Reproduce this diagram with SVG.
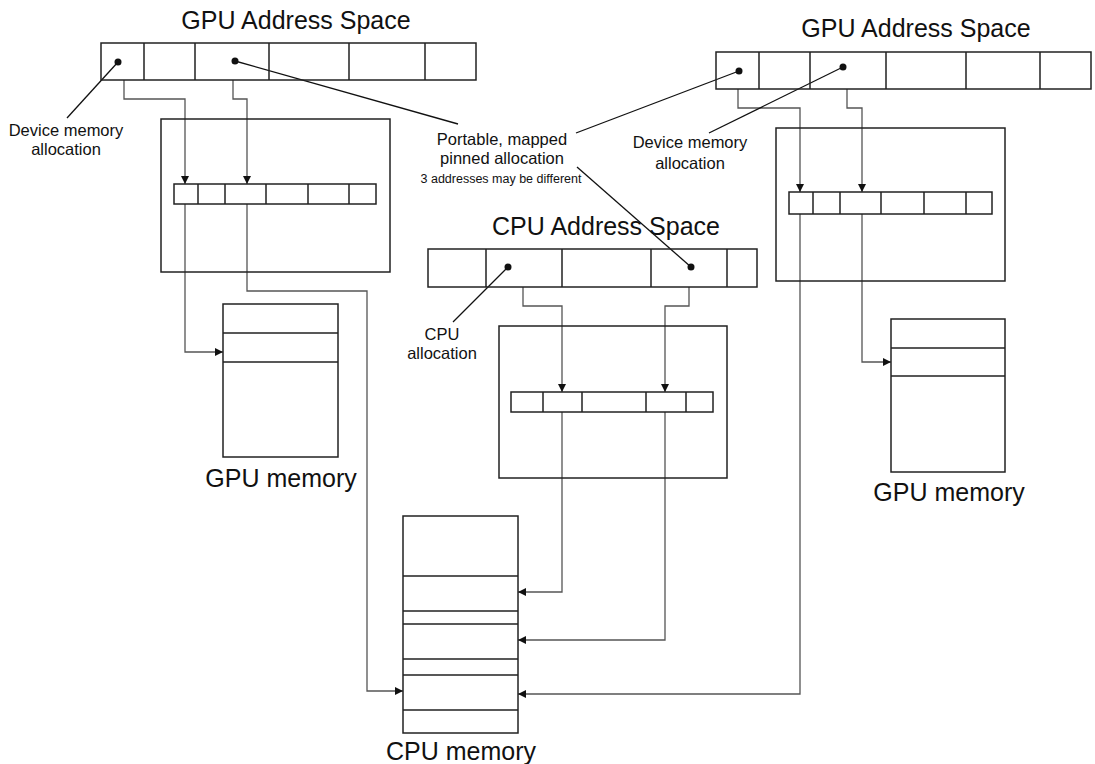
<svg xmlns="http://www.w3.org/2000/svg" width="1095" height="764" viewBox="0 0 1095 764">
<style>
.box{fill:none;stroke:#222;stroke-width:1.5}
.bar{fill:#fff;stroke:#222;stroke-width:1.5}
.div{stroke:#222;stroke-width:1.5}
.conn{fill:none;stroke:#555;stroke-width:1.3}
.ptr{fill:none;stroke:#111;stroke-width:1.3}
.dot{fill:#111}
.title{font-family:"Liberation Sans",Arial,sans-serif;font-size:25px;fill:#111;text-anchor:middle}
.lbl{font-family:"Liberation Sans",Arial,sans-serif;font-size:16.5px;fill:#111;text-anchor:middle}
.small{font-family:"Liberation Sans",Arial,sans-serif;font-size:12.5px;fill:#111;text-anchor:middle}
</style>
<defs>
<marker id="ah" viewBox="0 0 8 8" refX="8" refY="4" markerWidth="8" markerHeight="8" markerUnits="userSpaceOnUse" orient="auto">
<path d="M0,0 L8,4 L0,8 z" fill="#111"/>
</marker>
</defs>
<rect width="1095" height="764" fill="#fff"/>

<g id="connectors">
<path class="conn" d="M124,80 V99 H185 V184" marker-end="url(#ah)"/>
<path class="conn" d="M233,80 V99 H247 V184" marker-end="url(#ah)"/>
<path class="conn" d="M185,204 V352 H223" marker-end="url(#ah)"/>
<path class="conn" d="M247,204 V291 H367 V691 H403" marker-end="url(#ah)"/>
<path class="conn" d="M523,287 V306 H562 V392" marker-end="url(#ah)"/>
<path class="conn" d="M689,287 V306 H665 V392" marker-end="url(#ah)"/>
<path class="conn" d="M562,412 V592 H518" marker-end="url(#ah)"/>
<path class="conn" d="M665,412 V640 H518" marker-end="url(#ah)"/>
<path class="conn" d="M738,89 V108 H800 V192" marker-end="url(#ah)"/>
<path class="conn" d="M847,89 V108 H862 V192" marker-end="url(#ah)"/>
<path class="conn" d="M862,214 V362 H891" marker-end="url(#ah)"/>
<path class="conn" d="M800,214 V694 H518" marker-end="url(#ah)"/>
<path class="ptr" d="M118,62 L67,118"/>
<path class="ptr" d="M235,61 L458,124"/>
<path class="ptr" d="M739,71 L576,133"/>
<path class="ptr" d="M843,67 L709,133"/>
<path class="ptr" d="M508,267 L453,322"/>
<path class="ptr" d="M691,267 L577,167"/>
</g>

<g id="gpu-left-space">
<text class="title" x="296" y="29">GPU Address Space</text>
<rect class="box" x="101" y="43" width="375" height="37"/>
<path class="div" d="M144,43V80M195,43V80M269,43V80M349,43V80M425,43V80"/>
<circle class="dot" cx="118" cy="62" r="3.5"/>
<circle class="dot" cx="235" cy="61" r="3.5"/>
</g>
<g id="gpu-left-map">
<rect class="box" x="161" y="119" width="229" height="153"/>
<rect class="bar" x="174" y="184" width="202" height="20"/>
<path class="div" d="M198,184V204M225,184V204M266,184V204M308,184V204M349,184V204"/>
</g>
<g id="gpu-left-mem">
<rect class="box" x="223" y="304" width="115" height="153"/>
<path class="div" d="M223,333H338M223,362H338"/>
<text class="title" x="281" y="487">GPU memory</text>
</g>
<g id="label-dev-left">
<text class="lbl" x="66" y="136">Device memory</text>
<text class="lbl" x="66" y="155">allocation</text>
</g>

<g id="label-portable">
<text class="lbl" x="502" y="145">Portable, mapped</text>
<text class="lbl" x="502" y="164">pinned allocation</text>
<text class="small" x="501" y="183">3 addresses may be different</text>
</g>

<g id="cpu-space">
<text class="title" x="606" y="235">CPU Address Space</text>
<rect class="box" x="428" y="249" width="329" height="38"/>
<path class="div" d="M486,249V287M562,249V287M651,249V287M727,249V287"/>
<circle class="dot" cx="508" cy="267" r="3.5"/>
<circle class="dot" cx="691" cy="267" r="3.5"/>
</g>
<g id="cpu-map">
<rect class="box" x="499" y="326" width="228" height="152"/>
<rect class="bar" x="511" y="392" width="202" height="20"/>
<path class="div" d="M543,392V412M582,392V412M646,392V412M686,392V412"/>
</g>
<g id="label-cpu">
<text class="lbl" x="442" y="340">CPU</text>
<text class="lbl" x="442" y="359">allocation</text>
</g>
<g id="cpu-mem">
<rect class="box" x="403" y="516" width="115" height="217"/>
<path class="div" d="M403,576H518M403,611H518M403,624H518M403,659H518M403,675H518M403,710H518"/>
<text class="title" x="461" y="760">CPU memory</text>
</g>

<g id="gpu-right-space">
<text class="title" x="916" y="37">GPU Address Space</text>
<rect class="box" x="716" y="52" width="375" height="37"/>
<path class="div" d="M759,52V89M810,52V89M886,52V89M966,52V89M1040,52V89"/>
<circle class="dot" cx="739" cy="71" r="3.5"/>
<circle class="dot" cx="843" cy="67" r="3.5"/>
</g>
<g id="gpu-right-map">
<rect class="box" x="776" y="128" width="229" height="153"/>
<rect class="bar" x="789" y="192" width="203" height="22"/>
<path class="div" d="M813,192V214M840,192V214M881,192V214M924,192V214M966,192V214"/>
</g>
<g id="label-dev-right">
<text class="lbl" x="690" y="148">Device memory</text>
<text class="lbl" x="690" y="169">allocation</text>
</g>
<g id="gpu-right-mem">
<rect class="box" x="891" y="319" width="114" height="153"/>
<path class="div" d="M891,348H1005M891,376H1005"/>
<text class="title" x="949" y="501">GPU memory</text>
</g>
</svg>
